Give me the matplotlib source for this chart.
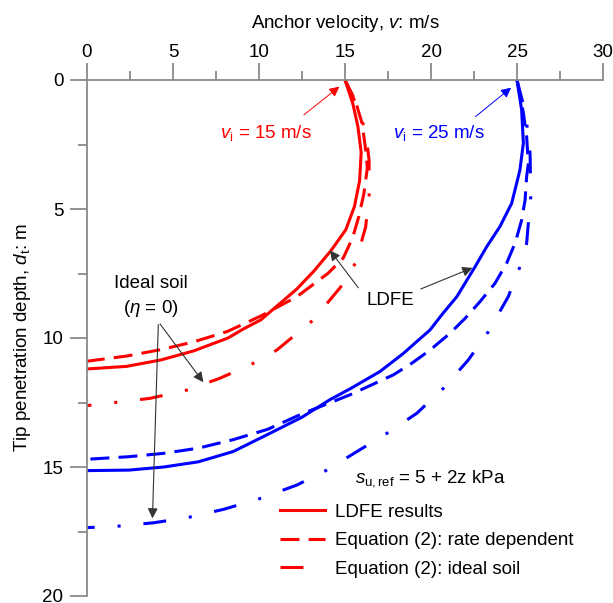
import matplotlib
matplotlib.use("Agg")
import matplotlib.pyplot as plt
from matplotlib.ticker import MultipleLocator

plt.rcParams['font.family'] = 'Liberation Sans'
plt.rcParams['mathtext.fontset'] = 'custom'
plt.rcParams['mathtext.rm'] = 'Liberation Sans'
plt.rcParams['mathtext.it'] = 'Liberation Sans:italic'

# velocity (m/s) vs tip depth (m)
red_ldfe_v = [15.0, 15.45, 15.75, 15.94, 15.85, 15.55, 15.05, 14.2, 13.2, 12.2, 10.1, 9.09, 8.2, 6.2, 4.3, 2.3, 0.0]
red_ldfe_d = [0.0, 0.9, 1.8, 2.8, 3.9, 4.9, 5.8, 6.6, 7.4, 8.1, 9.3, 9.65, 10.0, 10.5, 10.85, 11.1, 11.2]

red_rate_v = [15.0, 15.6, 16.0, 16.2, 16.3, 16.1, 15.8, 15.45, 14.9, 14.0, 12.2, 10.1, 8.15, 6.2, 4.3, 2.3, 0.0]
red_rate_d = [0.0, 0.8, 1.7, 2.7, 3.4, 4.4, 5.3, 6.1, 6.9, 7.5, 8.4, 9.15, 9.75, 10.15, 10.45, 10.7, 10.9]

red_ideal_v = [15.0, 15.7, 16.2, 16.4, 16.4, 16.2, 15.6, 14.9, 13.16, 11.03, 9.67, 7.73, 5.8, 3.66, 1.63, 0.0]
red_ideal_d = [0.0, 1.0, 2.0, 3.1, 4.5, 5.7, 7.1, 7.9, 9.3, 10.47, 10.98, 11.56, 12.02, 12.34, 12.5, 12.62]

blue_ldfe_v = [25.0, 25.27, 25.37, 25.17, 24.69, 24.0, 23.24, 22.56, 21.5, 20.7, 19.94, 19.17, 18.39, 17.03, 15.35, 14.1, 12.5, 10.5, 8.5, 6.47, 4.46, 2.45, 0.0]
blue_ldfe_d = [0.0, 1.16, 2.45, 3.49, 4.78, 5.69, 6.46, 7.24, 8.4, 9.04, 9.69, 10.14, 10.6, 11.3, 11.95, 12.4, 13.07, 13.74, 14.4, 14.8, 15.0, 15.12, 15.14]

blue_rate_v = [25.0, 25.37, 25.56, 25.66, 25.56, 25.47, 25.27, 24.9, 24.4, 23.72, 22.85, 21.98, 21.1, 19.94, 18.88, 17.81, 15.3, 12.5, 10.5, 8.5, 6.47, 4.46, 2.45, 0.0]
blue_rate_d = [0.0, 1.28, 2.2, 3.23, 3.75, 4.65, 5.43, 6.3, 7.1, 7.88, 8.59, 9.24, 9.82, 10.47, 10.98, 11.43, 12.2, 12.94, 13.54, 13.94, 14.27, 14.47, 14.6, 14.7]

blue_ideal_v = [25.0, 25.5, 25.76, 25.8, 25.66, 25.56, 25.17, 24.49, 23.33, 22.17, 20.72, 19.17, 17.47, 15.65, 13.83, 12.2, 9.98, 7.95, 5.92, 3.9, 1.87, 0.0]
blue_ideal_d = [0.0, 1.3, 2.84, 4.52, 5.55, 6.33, 7.24, 8.4, 9.76, 10.85, 11.95, 12.92, 13.68, 14.42, 15.16, 15.7, 16.24, 16.64, 16.95, 17.16, 17.29, 17.35]

fs = 13.5
lw = 2.2
dashed = (0, (6.2, 3.0))
dashdot = (0, (7.5, 7.5, 1.0, 7.5))

fig = plt.figure(figsize=(6.13, 6.03), dpi=100)
ax = fig.add_axes([87 / 613, 1 - 596 / 603, 516 / 613, 516 / 603])

ax.plot(red_ldfe_v, red_ldfe_d, color='red', lw=lw, label='LDFE results')
ax.plot(red_rate_v, red_rate_d, color='red', lw=lw, linestyle=dashed, label='Equation (2): rate dependent')
ax.plot(red_ideal_v, red_ideal_d, color='red', lw=lw, linestyle=dashdot, label='Equation (2): ideal soil')
ax.plot(blue_ldfe_v, blue_ldfe_d, color='blue', lw=lw)
ax.plot(blue_rate_v, blue_rate_d, color='blue', lw=lw, linestyle=dashed)
ax.plot(blue_ideal_v, blue_ideal_d, color='blue', lw=lw, linestyle=dashdot)

ax.set_xlim(0, 30)
ax.set_ylim(20, 0)
ax.xaxis.tick_top()
ax.xaxis.set_label_position('top')
ax.xaxis.set_major_locator(MultipleLocator(5))
ax.xaxis.set_minor_locator(MultipleLocator(2.5))
ax.yaxis.set_major_locator(MultipleLocator(5))
ax.yaxis.set_minor_locator(MultipleLocator(2.5))

axis_grey = '#8a8a8a'
for side in ['right', 'bottom']:
    ax.spines[side].set_visible(False)
for side in ['left', 'top']:
    ax.spines[side].set_color(axis_grey)
    ax.spines[side].set_linewidth(1.3)
ax.tick_params(which='major', length=12, width=1.3, color=axis_grey, labelsize=fs)
ax.tick_params(which='minor', length=6.5, width=1.3, color=axis_grey)
ax.tick_params(axis='x', which='major', pad=2)
ax.tick_params(axis='y', which='major', pad=5)
ax.patch.set_visible(False)

ax.set_xlabel('Anchor velocity, $v$: m/s', fontsize=fs, labelpad=11)
ax.set_ylabel('Tip penetration depth, $d_\\mathrm{t}$: m', fontsize=fs, labelpad=7)

# annotations
ax.text(10.4, 2.05, '$v_\\mathrm{i}$ = 15 m/s', color='red', fontsize=fs, ha='center', va='center')
ax.annotate('', xy=(14.8, 0.19), xytext=(12.48, 1.42),
            arrowprops=dict(arrowstyle='-|>', color='red', lw=0.7, mutation_scale=15))
ax.text(20.44, 2.05, '$v_\\mathrm{i}$ = 25 m/s', color='blue', fontsize=fs, ha='center', va='center')
ax.annotate('', xy=(24.78, 0.23), xytext=(22.46, 1.49),
            arrowprops=dict(arrowstyle='-|>', color='blue', lw=0.7, mutation_scale=15))

ax.text(17.65, 8.55, 'LDFE', fontsize=fs, ha='center', va='center')
black_arrow = dict(arrowstyle='-|>', color='#333333', lw=0.8, mutation_scale=15)
ax.annotate('', xy=(14.03, 6.52), xytext=(15.87, 8.14), arrowprops=black_arrow)
ax.annotate('', xy=(22.56, 7.24), xytext=(19.26, 8.14), arrowprops=black_arrow)

ax.text(3.72, 7.88, 'Ideal soil', fontsize=fs, ha='center', va='center')
ax.text(3.72, 8.85, '($\\eta$ = 0)', fontsize=fs, ha='center', va='center')
ax.annotate('', xy=(6.86, 11.8), xytext=(4.15, 9.37), arrowprops=black_arrow)
ax.annotate('', xy=(3.8, 17.1), xytext=(4.15, 9.37), arrowprops=black_arrow)

ax.text(15.58, 15.44, '$s_\\mathrm{u,ref}$ = 5 + 2z kPa', fontsize=fs, ha='left', va='center')

ax.legend(loc='upper left', bbox_to_anchor=(11.22, 16.42), bbox_transform=ax.transData,
          frameon=False, fontsize=fs, borderpad=0, borderaxespad=0,
          handlelength=2.4, handletextpad=0.53, labelspacing=0.6)

fig.savefig('out.png', dpi=100)
